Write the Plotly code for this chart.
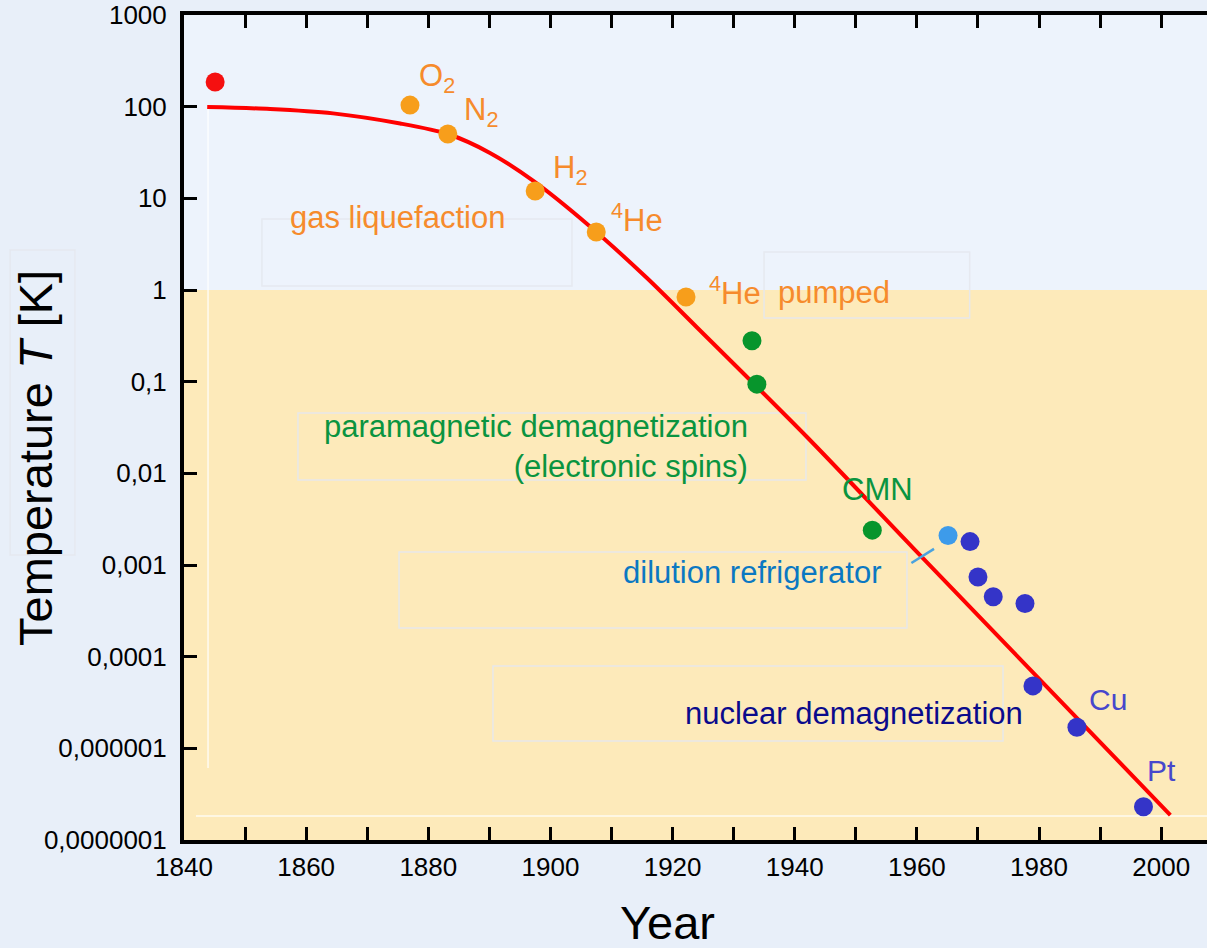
import plotly.graph_objects as go

# ---------------- data ----------------
first_year = [1845.1]
first_T = [186]

liq_names = ["O2", "N2", "H2", "4He", "4He pumped"]
liq_year = [1877.0, 1883.2, 1897.5, 1907.5, 1922.2]
liq_T = [104, 50.3, 12.0, 4.3, 0.84]

para_year = [1933.0, 1933.8, 1952.7]
para_T = [0.28, 0.094, 0.0024]

dil_year = [1965.1]
dil_T = [0.0021]

nuc_year = [1968.7, 1970.0, 1972.5, 1977.7, 1979.0, 1986.2, 1997.1]
nuc_T = [0.0018, 0.00074, 0.00045, 0.00038, 4.8e-5, 1.7e-5, 2.3e-6]

trend_year = [1843.8, 1854.1, 1864.4, 1875.4, 1883.2, 1890.1, 1897.2, 1906.0,
              1915.8, 1924.0, 1942.0, 1959.4, 2001.5]
trend_T = [99.1, 94.4, 84.5, 65.5, 50.3, 31.3, 15.5, 5.25, 1.35, 0.390, 0.0249,
           0.00153, 1.87e-6]

x_ticks = [1840, 1860, 1880, 1900, 1920, 1940, 1960, 1980, 2000]
y_tickvals = [1e3, 1e2, 1e1, 1, 1e-1, 1e-2, 1e-3, 1e-4, 1e-5, 1e-6]
y_ticktext = ["1000", "100", "10", "1", "0,1", "0,01", "0,001", "0,0001",
              "0,000001", "0,0000001"]

FONT = "Arial, Liberation Sans, sans-serif"
ORANGE_DOT = "#f79e1b"
ORANGE_TXT = "#f68b2c"
GREEN_DOT = "#07952c"
GREEN_TXT = "#0a9440"
LBLUE_DOT = "#3d9bea"
LBLUE_TXT = "#0b78c2"
BLUE_DOT = "#3434c8"
BLUE_TXT = "#4747cc"
NAVY_TXT = "#0a0a8c"
SHADE = "#fdeaba"

fig = go.Figure()

fig.add_trace(go.Scatter(x=trend_year, y=trend_T, mode="lines",
                         line=dict(color="#ff0000", width=4, shape="spline", smoothing=0.8),
                         hoverinfo="skip", showlegend=False))

def dots(x, y, color):
    fig.add_trace(go.Scatter(x=x, y=y, mode="markers",
                             marker=dict(size=19, color=color, line=dict(width=0)),
                             showlegend=False))

dots(first_year, first_T, "#f51010")
dots(liq_year, liq_T, ORANGE_DOT)
dots(para_year, para_T, GREEN_DOT)
dots(dil_year, dil_T, LBLUE_DOT)
dots(nuc_year, nuc_T, BLUE_DOT)

shapes = []
# low temperature shaded region (below 1 K)
shapes.append(dict(type="rect", xref="paper", x0=0, x1=1, yref="y", y0=1e-6, y1=1,
                   fillcolor=SHADE, line=dict(width=0), layer="below"))
# faint text boxes (paper coords)
box_line = dict(color="rgba(228,232,238,0.9)", width=1.5)
for (x0, x1, y0, y1) in [(0.0762, 0.3793, 0.6715, 0.7527),
                         (0.567, 0.768, 0.6327, 0.7127),
                         (0.1114, 0.608, 0.4364, 0.5176),
                         (0.2102, 0.7067, 0.257, 0.349),
                         (0.302, 0.8006, 0.12, 0.2109),
                         (-0.170, -0.1066, 0.3455, 0.7152)]:
    shapes.append(dict(type="rect", xref="paper", yref="paper", x0=x0, x1=x1, y0=y0, y1=y1,
                       line=box_line, fillcolor="rgba(0,0,0,0)", layer="below"))
# faint white lines
shapes.append(dict(type="line", xref="paper", yref="paper", x0=0.0235, x1=0.0235, y0=0.0873, y1=0.8885,
                   line=dict(color="rgba(255,255,255,0.8)", width=1.5), layer="below"))
shapes.append(dict(type="line", xref="paper", yref="paper", x0=0.0117, x1=1, y0=0.0291, y1=0.0291,
                   line=dict(color="rgba(255,255,255,0.8)", width=1.5), layer="below"))
# pointer for dilution refrigerator
shapes.append(dict(type="line", xref="x", yref="y", x0=1959.1, x1=1962.8, y0=0.00105, y1=0.0015,
                   line=dict(color="#4aa3df", width=2.5)))

def ann(x, logy, text, color, xanchor="center", align="center", size=31):
    return dict(x=x, y=logy, xref="x", yref="y", text=text, showarrow=False,
                font=dict(family=FONT, size=size, color=color),
                xanchor=xanchor, yanchor="middle", align=align)

annotations = [
    ann(1881.4, 2.313, "O<sub>2</sub>", ORANGE_TXT),
    ann(1888.6, 1.942, "N<sub>2</sub>", ORANGE_TXT),
    ann(1903.2, 1.309, "H<sub>2</sub>", ORANGE_TXT),
    ann(1914.2, 0.786, "<sup>4</sup>He", ORANGE_TXT),
    ann(1930.2, -0.011, "<sup>4</sup>He", ORANGE_TXT),
    ann(1946.5, -0.022, "pumped", ORANGE_TXT),
    ann(1874.9, 0.786, "gas liquefaction", ORANGE_TXT),
    ann(1932.7, -1.707, "paramagnetic demagnetization<br>(electronic spins)", GREEN_TXT,
        xanchor="right", align="right"),
    ann(1953.5, -2.18, "CMN", GREEN_TXT),
    ann(1933.0, -3.087, "dilution refrigerator", LBLUE_TXT),
    ann(1949.7, -4.625, "nuclear demagnetization", NAVY_TXT),
    ann(1991.3, -4.47, "Cu", BLUE_TXT, size=30),
    ann(2000.0, -5.247, "Pt", BLUE_TXT, size=30),
    dict(x=-0.1457, y=0.463, xref="paper", yref="paper", text="Temperature <i>T</i> [K]",
         showarrow=False, textangle=-90, font=dict(family=FONT, size=47, color="black"),
         xanchor="center", yanchor="middle"),
    dict(x=0.473, y=-0.1, xref="paper", yref="paper", text="Year",
         showarrow=False, font=dict(family=FONT, size=47, color="black"),
         xanchor="center", yanchor="middle"),
]

fig.update_layout(
    width=1207, height=948,
    margin=dict(l=184, r=0, t=15, b=108),
    paper_bgcolor="#e8eff9",
    plot_bgcolor="#edf3fc",
    font=dict(family=FONT, color="black"),
    shapes=shapes,
    annotations=annotations,
    showlegend=False,
)

fig.update_xaxes(range=[1840, 2007.5], tickvals=x_ticks, ticks="inside", ticklen=13,
                 tickwidth=3, tickcolor="black", showline=True, linewidth=4, linecolor="black",
                 mirror="ticks", showgrid=False, zeroline=False,
                 tickfont=dict(family=FONT, size=26, color="black"), ticklabelstandoff=1,
                 minor=dict(dtick=10, tick0=1840, ticks="inside", ticklen=13, tickwidth=3,
                            tickcolor="black", showgrid=False))
fig.update_yaxes(type="log", range=[-6, 3], tickvals=y_tickvals, ticktext=y_ticktext,
                 ticks="inside", ticklen=13, tickwidth=3, tickcolor="black",
                 showline=True, linewidth=4, linecolor="black", mirror=False,
                 showgrid=False, zeroline=False,
                 tickfont=dict(family=FONT, size=26, color="black"), ticklabelstandoff=8)

fig.write_html("out.html")
